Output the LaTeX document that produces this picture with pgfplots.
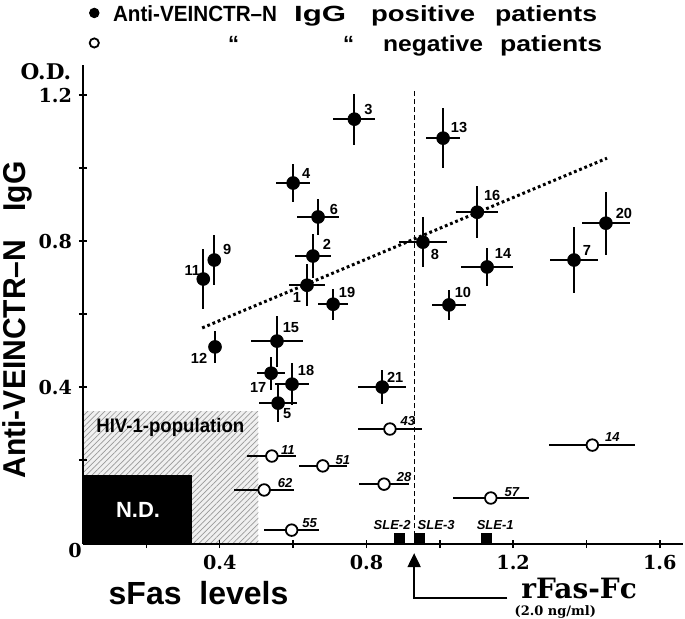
\documentclass[border=0pt]{standalone}
\usepackage{graphicx}
\usepackage{pgfplots}
\usepackage{pgfplotstable}
\pgfplotsset{compat=1.18}
\usepackage{fontspec}
\setmainfont{Liberation Sans}
\newfontfamily\condfont[FakeStretch=0.95]{Liberation Sans}
\newfontfamily\numfont{DejaVu Serif}
\usetikzlibrary{patterns.meta,arrows.meta}

% positive patients: x y xerr yerr label dx dy (label offsets in px)
\pgfplotstableread{
x      y      ex     ey     lab  dx   dy
0.638  0.679  0.049  0.058  1    -10  -12
0.654  0.759  0.048  0.060  2    14   12
0.767  1.134  0.057  0.070  3    14   10
0.600  0.959  0.047  0.053  4    13   10
0.559  0.356  0.052  0.052  5    9    -10
0.668  0.866  0.057  0.050  6    16   7
1.366  0.748  0.065  0.090  7    13   10
0.954  0.797  0.065  0.068  8    12   -12
0.385  0.748  0.000  0.068  9    13   11
1.025  0.625  0.047  0.040  10   14   12
0.355  0.696  0.000  0.081  11   -11  9
0.387  0.510  0.000  0.043  12   -16  -11
1.009  1.082  0.046  0.082  13   16   11
1.129  0.729  0.070  0.052  14   16   13
0.556  0.526  0.070  0.070  15   14   14
1.102  0.879  0.058  0.071  16   15   17
0.540  0.438  0.038  0.045  17   -13  -14
0.597  0.408  0.047  0.057  18   14   14
0.709  0.627  0.041  0.042  19   14   12
1.453  0.849  0.065  0.086  20   18   10
0.843  0.400  0.065  0.047  21   13   10
}\postable

% negative patients
\pgfplotstableread{
x      y      ex     lab  dx  dy
0.542  0.211  0.067  11   16  6
0.681  0.184  0.066  51   20  6
0.521  0.118  0.082  62   21  7
0.596  0.008  0.075  55   18  7
0.864  0.285  0.087  43   18  8
0.848  0.134  0.068  28   20  7
1.139  0.096  0.104  57   21  6
1.416  0.241  0.117  14   20  8
}\negtable

\newcommand{\word}[2]{\resizebox{#1}{\height}{#2}}

\begin{document}
\begin{tikzpicture}
\useasboundingbox (-41.5pt,-37pt) rectangle (301pt,272pt);
\begin{axis}[
    x=183.35pt, y=182.5pt,
    xmin=0.027, xmax=1.664, ymin=-0.03, ymax=1.282,
    axis x line*=bottom, axis y line*=left,
    axis line style={line width=1.4pt},
    axis on top,
    clip=false,
    xtick={0.4,0.8,1.2,1.6}, minor xtick={0.2,0.6,1.0,1.4},
    ytick={0.4,0.8,1.2}, minor ytick={0.2,0.6,1.0},
    tick align=center, major tick length=4pt, minor tick length=4pt,
    every tick/.style={black, line width=0.7pt},
    /pgf/number format/assume math mode=true,
    /pgf/number format/fixed,
    tick label style={font=\numfont\bfseries\fontsize{9.6}{10}\selectfont},
    legend image code/.code={\draw[#1] plot coordinates {(0pt,0pt)};},
    legend style={at={(axis cs:0.0436,1.463)}, anchor=north west, draw=none, fill=none,
        inner sep=0pt, font=\bfseries\fontsize{11}{11}\selectfont,
        nodes={inner sep=1pt}, row sep=1.5pt,
        /tikz/every odd column/.append style={column sep=6pt}},
    legend cell align=left,
]
% HIV-1 population (hatched) and N.D. region
\addplot[draw=none, fill=gray!12, forget plot,
    postaction={pattern={Lines[angle=45,distance=2pt,line width=0.35pt]}, pattern color=gray!80}]
    coordinates {(0.027,-0.03) (0.505,-0.03) (0.505,0.334) (0.027,0.334)} -- cycle;
\addplot[draw=none, fill=black, forget plot]
    coordinates {(0.027,-0.03) (0.325,-0.03) (0.325,0.159) (0.027,0.159)} -- cycle;
\node[font=\condfont\bfseries\fontsize{9.8}{10}\selectfont] at (axis cs:0.265,0.29) {HIV-1-population};
\node[font=\bfseries\fontsize{11}{11}\selectfont, text=white] at (axis cs:0.177,0.063) {N.D.};

% rFas-Fc reference line
\addplot[black, line width=0.6pt, dash pattern=on 2.5pt off 1.5pt, forget plot]
    coordinates {(0.93,-0.03) (0.93,1.219)};
% regression line
\addplot[black, line width=1.5pt, dash pattern=on 1.4pt off 1.4pt, forget plot]
    coordinates {(0.352,0.562) (1.456,1.027)};

% SLE controls
\addplot[only marks, mark=square*, mark size=2.5pt, black, forget plot]
    coordinates {(0.889,-0.015) (0.944,-0.015) (1.126,-0.015)};
\node[font=\bfseries\itshape\fontsize{6.5}{7}\selectfont] at (axis cs:0.870,0.021) {SLE-2};
\node[font=\bfseries\itshape\fontsize{6.5}{7}\selectfont] at (axis cs:0.990,0.021) {SLE-3};
\node[font=\bfseries\itshape\fontsize{6.5}{7}\selectfont] at (axis cs:1.151,0.021) {SLE-1};

% negative patients
\addplot[only marks, mark=*, mark size=2.9pt, forget plot,
    mark options={fill=white, draw=black, line width=0.9pt},
    error bars/.cd, x dir=both, x explicit,
    error bar style={line width=0.8pt, black}, error mark=none]
    table[x=x, y=y, x error=ex]{\negtable};
\addplot[draw=none, mark=none, forget plot,
    nodes near coords, point meta=explicit symbolic,
    nodes near coords style={anchor=center, inner sep=0pt,
        font=\bfseries\itshape\fontsize{6.5}{7}\selectfont}]
    table[x expr=\thisrow{x}+\thisrow{dx}/366.7, y expr=\thisrow{y}+\thisrow{dy}/365, meta=lab]{\negtable};

% positive patients
\addplot[only marks, mark=*, mark size=3.2pt, black, forget plot,
    error bars/.cd, x dir=both, x explicit, y dir=both, y explicit,
    error bar style={line width=0.9pt, black}, error mark=none]
    table[x=x, y=y, x error=ex, y error=ey]{\postable};
\addplot[draw=none, mark=none, forget plot,
    nodes near coords, point meta=explicit symbolic,
    nodes near coords style={anchor=center, inner sep=0pt,
        font=\bfseries\fontsize{7.3}{8}\selectfont}]
    table[x expr=\thisrow{x}+\thisrow{dx}/366.7, y expr=\thisrow{y}+\thisrow{dy}/365, meta=lab]{\postable};

\addlegendimage{only marks, mark=*, mark size=2.4pt, black}
\addlegendentry{\rule[-4pt]{0pt}{14pt}\word{82pt}{Anti-VEINCTR–N}\hspace*{8.5pt}\word{26pt}{IgG}\hspace*{12.5pt}\word{52pt}{positive}\hspace*{10pt}\word{51pt}{patients}}
\addlegendimage{only marks, mark=*, mark size=2.3pt, mark options={fill=white, draw=black, line width=0.9pt}}
\addlegendentry{\rule[-4pt]{0pt}{14pt}\hspace*{57.5pt}“\hspace*{52pt}“\hspace*{14.5pt}\word{50pt}{negative}\hspace*{8.5pt}\word{51pt}{patients}}

% axis texts
\node[font=\numfont\bfseries\fontsize{10.8}{11}\selectfont] at (axis cs:-0.074,1.263) {O.D.};
\node[font=\numfont\bfseries\fontsize{9.6}{10}\selectfont] at (axis cs:0.005,-0.047) {0};
\node[rotate=90, anchor=base, font=\condfont\bfseries\fontsize{15.8}{16}\selectfont]
    at (axis cs:-0.131,0.584) {Anti-VEINCTR–N\hspace{0.9em}IgG};
\node[anchor=base, font=\bfseries\fontsize{16}{16}\selectfont] at (axis cs:0.342,-0.197) {sFas\ \ levels};

% rFas-Fc arrow
\draw[line width=1pt, -{Triangle[width=6.5pt,length=7pt]}]
    (axis cs:1.184,-0.178) -| (axis cs:0.93,-0.055);
\node[anchor=west, font=\numfont\bfseries\fontsize{14}{14}\selectfont] at (axis cs:1.203,-0.151) {rFas-Fc};
\node[font=\numfont\bfseries\fontsize{6.5}{7}\selectfont] at (axis cs:1.315,-0.216) {(2.0 ng/ml)};
\end{axis}
\end{tikzpicture}
\end{document}
